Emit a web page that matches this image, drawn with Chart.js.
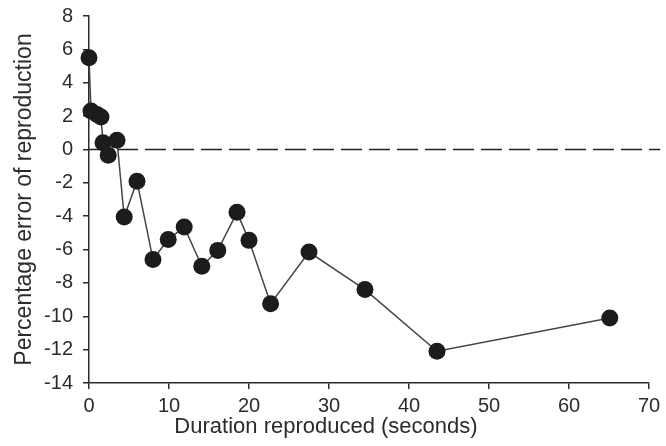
<!DOCTYPE html>
<html>
<head>
<meta charset="utf-8">
<script src="https://cdn.jsdelivr.net/npm/chart.js@4.4.1/dist/chart.umd.min.js"></script>
<style>
  html, body { margin: 0; padding: 0; background: #fff; }
  #wrap { width: 666px; height: 446px; position: relative; }
</style>
</head>
<body>
<div id="wrap"><canvas id="chart"></canvas></div>
<script>
// duration reproduced (s) and percentage error of reproduction
const durations = [0.0, 0.25, 1.0, 1.5, 1.75, 2.4, 3.5, 4.4, 6.0, 8.0, 9.9, 11.9, 14.1, 16.1, 18.5, 20.0, 22.7, 27.5, 34.5, 43.5, 65.1];
const errors    = [5.5, 2.3, 2.1, 1.95, 0.4, -0.35, 0.55, -4.05, -1.9, -6.6, -5.4, -4.65, -7.0, -6.05, -3.77, -5.45, -9.25, -6.15, -8.4, -12.1, -10.1];

// horizontal reference at zero error
const refX = [0, 71.4];
const refY = [0, 0];

const X_MIN = 0, X_MAX = 70, X_STEP = 10;
const Y_MIN = -14, Y_MAX = 8, Y_STEP = 2;

const X_TITLE = "Duration reproduced (seconds)";
const Y_TITLE = "Percentage error of reproduction";

const INK = "#2b2b2b";
const FONT = "'Liberation Sans', Arial, sans-serif";

const points = durations.map((d, i) => ({ x: d, y: errors[i] }));
const refLine = refX.map((x, i) => ({ x, y: refY[i] }));

// x title sits a little left of the plot centre
const xTitlePlugin = {
  id: "xTitle",
  afterDraw(chart) {
    const { ctx, chartArea } = chart;
    ctx.save();
    ctx.fillStyle = INK;
    ctx.font = "22px " + FONT;
    ctx.textAlign = "center";
    ctx.textBaseline = "alphabetic";
    ctx.fillText(X_TITLE, chartArea.left + 237, 433);
    ctx.restore();
  }
};

const axisGrid = {
  display: true,
  drawOnChartArea: false,
  drawTicks: true,
  tickLength: 6,
  color: INK,
  lineWidth: 1.5
};
const axisBorder = { display: true, color: INK, width: 1.5 };

new Chart(document.getElementById("chart"), {
  type: "line",
  data: {
    datasets: [
      {
        data: refLine,
        borderColor: "#222",
        borderWidth: 1.5,
        borderDash: [21, 7],
        pointRadius: 0,
        clip: false,
        order: 2
      },
      {
        data: points,
        borderColor: "#444",
        borderWidth: 1.5,
        pointRadius: 8.5,
        pointBackgroundColor: "#1c1c1c",
        pointBorderColor: "#1c1c1c",
        pointBorderWidth: 0,
        tension: 0,
        clip: false,
        order: 1
      }
    ]
  },
  options: {
    responsive: true,
    maintainAspectRatio: false,
    animation: false,
    layout: { padding: { top: 16, right: 17, bottom: 0, left: 0 } },
    plugins: {
      legend: { display: false },
      tooltip: { enabled: false }
    },
    scales: {
      x: {
        type: "linear",
        min: X_MIN,
        max: X_MAX,
        grid: axisGrid,
        border: axisBorder,
        ticks: {
          stepSize: X_STEP,
          color: INK,
          font: { family: FONT, size: 20 },
          padding: 5,
          maxRotation: 0
        },
        title: { display: false },
        afterFit(scale) {
          scale.height = 63;
          scale.paddingLeft = 0;
          scale.paddingRight = 0;
        }
      },
      y: {
        type: "linear",
        min: Y_MIN,
        max: Y_MAX,
        grid: axisGrid,
        border: axisBorder,
        ticks: {
          stepSize: Y_STEP,
          color: INK,
          font: { family: FONT, size: 20 },
          padding: 10
        },
        title: {
          display: true,
          text: Y_TITLE,
          color: INK,
          font: { family: FONT, size: 23 },
          padding: { top: 11, bottom: 0 }
        },
        afterFit(scale) {
          scale.width = 89;
          scale.paddingTop = 0;
          scale.paddingBottom = 0;
        }
      }
    }
  },
  plugins: [xTitlePlugin]
});
</script>
</body>
</html>
